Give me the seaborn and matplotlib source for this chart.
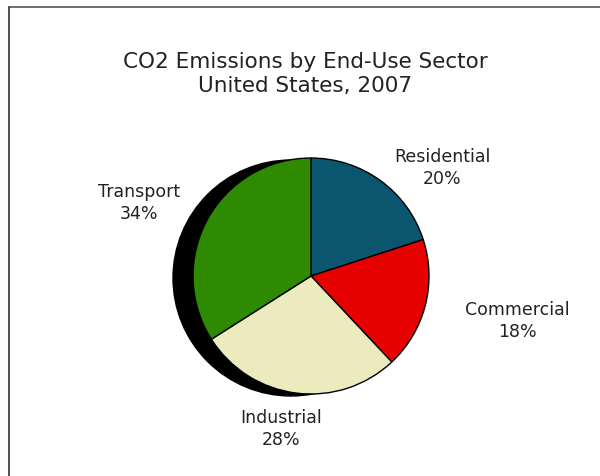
import matplotlib
matplotlib.use("Agg")
import matplotlib.pyplot as plt
from matplotlib.patches import Circle
from matplotlib.lines import Line2D
import seaborn as sns

sectors = ["Residential", "Commercial", "Industrial", "Transport"]
shares = [20, 18, 28, 34]
colors = ["#0b566f", "#e60000", "#ebebbe", "#2e8a00"]
title_lines = ["CO2 Emissions by End-Use Sector", "United States, 2007"]

# label anchor positions in pixel coords (x, y from top)
label_pos = [(442, 168), (517, 321), (281, 429), (139, 203)]

sns.set_style("white")
plt.rcParams["font.family"] = ["DejaVu Sans"]

W, H = 600, 477
fig = plt.figure(figsize=(W / 100, H / 100), dpi=100)
ax = fig.add_axes([0, 0, 1, 1])
ax.set_xlim(0, W)
ax.set_ylim(0, H)
ax.set_aspect("equal")
ax.axis("off")

cx, cy, r = 311, H - 277, 118

# shadow behind the pie
ax.add_patch(Circle((cx - 20, cy - 2), r, color="black", zorder=1))

wedges, _ = ax.pie(shares, colors=sns.color_palette(colors), startangle=90,
                   counterclock=False, center=(cx, cy), radius=r,
                   wedgeprops=dict(edgecolor="black", linewidth=1.0))
for w in wedges:
    w.set_zorder(2)
ax.set_xlim(0, W)
ax.set_ylim(0, H)

for name, val, (x, y) in zip(sectors, shares, label_pos):
    ax.text(x, H - y, f"{name}\n{val}%", ha="center", va="center",
            fontsize=12.5, color="#222222", linespacing=1.3)

ax.text(305, H - 74, "\n".join(title_lines), ha="center", va="center",
        fontsize=15.5, color="#222222", linespacing=1.3)

# frame lines (top and left only)
fig.add_artist(Line2D([9 / W, 1], [1 - 8 / H, 1 - 8 / H], color="#555555", lw=1.2))
fig.add_artist(Line2D([9 / W, 9 / W], [0, 1 - 8 / H], color="#333333", lw=1.2))

fig.savefig("out.png", dpi=100)
